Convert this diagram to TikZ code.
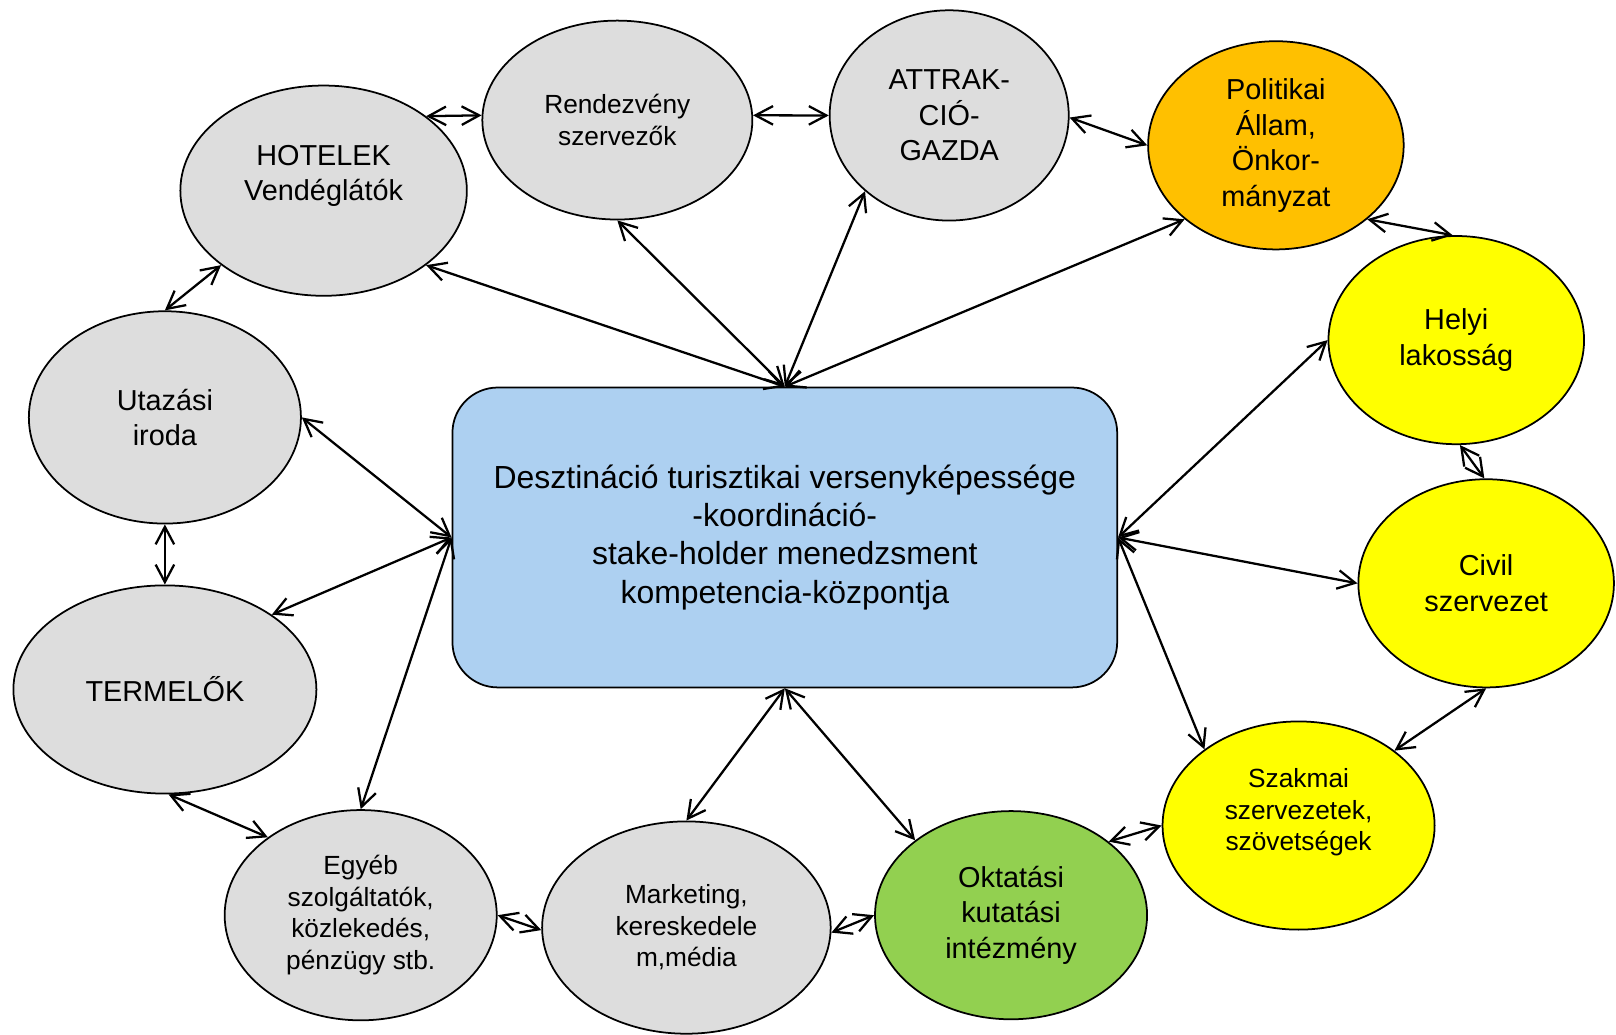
\documentclass[tikz,border=0pt]{standalone}
\usepackage{fontspec}
\setmainfont{Liberation Sans}
\usetikzlibrary{shapes.geometric,arrows.meta}
\definecolor{hubblue}{RGB}{173,208,241}
\definecolor{bubblegray}{RGB}{221,221,221}
\definecolor{polorange}{RGB}{255,192,0}
\definecolor{civyellow}{RGB}{255,255,0}
\definecolor{eduGreen}{RGB}{146,208,80}
\begin{document}
\begin{tikzpicture}[x=1pt,y=-1pt,line join=round,>={Straight Barb[length=17pt,width=18pt]},
  bubble/.style={ellipse,draw,line width=1.7pt,fill=bubblegray,inner sep=0pt,align=center},
  sz/.style 2 args={minimum width=#1pt,minimum height=#2pt},
  big/.style={font=\fontsize{28}{34.5}\selectfont},
  small/.style={font=\fontsize{25.5}{30.5}\selectfont},
  link/.style={<->,line width=2.2pt}]
\useasboundingbox (0,0) rectangle (1568,1004);
%% central box
\node[draw,line width=1.7pt,fill=hubblue,rounded corners=44pt,minimum width=645pt,minimum height=291pt,
  align=center,font=\fontsize{31}{37}\selectfont] (hub) at (761.5,521.5)
  {Desztináció turisztikai versenyképessége\\-koordináció-\\stake-holder menedzsment\\kompetencia-központja};
%% ring of stakeholders
\node[bubble,big,sz={278}{204}] (hotel) at (314,185) {HOTELEK\\Vendéglátók\\\mbox{}};
\node[bubble,small,sz={262}{193}] (rend) at (599,116.5) {Rendezvény\\szervezők};
\node[bubble,big,sz={232}{204}] (attr) at (921,112) {ATTRAK-\\CIÓ-\\GAZDA};
\node[bubble,big,sz={248}{202},fill=polorange] (pol) at (1238,141) {Politikai\\Állam,\\Önkor-\\mányzat};
\node[bubble,big,sz={248}{202},fill=civyellow] (helyi) at (1413,330) {Helyi\\lakosság};
\node[bubble,big,sz={248}{202},fill=civyellow] (civil) at (1442,566) {Civil\\szervezet};
\node[bubble,small,sz={264}{202},fill=civyellow] (szak) at (1260,801) {Szakmai\\szervezetek,\\szövetségek\\\mbox{}};
\node[bubble,big,sz={264}{202},fill=eduGreen] (okt) at (981,888) {Oktatási\\kutatási\\intézmény};
\node[bubble,small,sz={280}{206}] (mark) at (666,900) {Marketing,\\kereskedele\\m,média};
\node[bubble,small,sz={264}{204}] (egyeb) at (350,888) {Egyéb\\szolgáltatók,\\közlekedés,\\pénzügy stb.};
\node[bubble,big,sz={294}{202}] (term) at (160,669) {TERMELŐK};
\node[bubble,big,sz={264}{206}] (utaz) at (160,405) {Utazási\\iroda};
%% neighbours
\foreach \a/\b in {hotel.36/rend.178, rend.2/attr.west, attr.-1/pol.west, pol.-39/helyi.92,
  helyi.-88/civil.91, civil.south/szak.38, szak.west/okt.37, okt.west/mark.-2,
  mark.181/egyeb.east, egyeb.140/term.-88, term.north/utaz.south, utaz.north/hotel.-144}
  \draw[link] (\a) -- (\b);
%% spokes from the hub
\foreach \a/\b in {hub.north/hotel.-36, hub.north/rend.south, hub.north/attr.-138, hub.north/pol.-141,
  hub.east/helyi.west, hub.east/civil.west, hub.east/szak.141,
  hub.south/mark.north, hub.south/okt.142,
  hub.west/utaz.east, hub.west/term.35, hub.west/egyeb.north}
  \draw[link] (\a) -- (\b);
\end{tikzpicture}
\end{document}
